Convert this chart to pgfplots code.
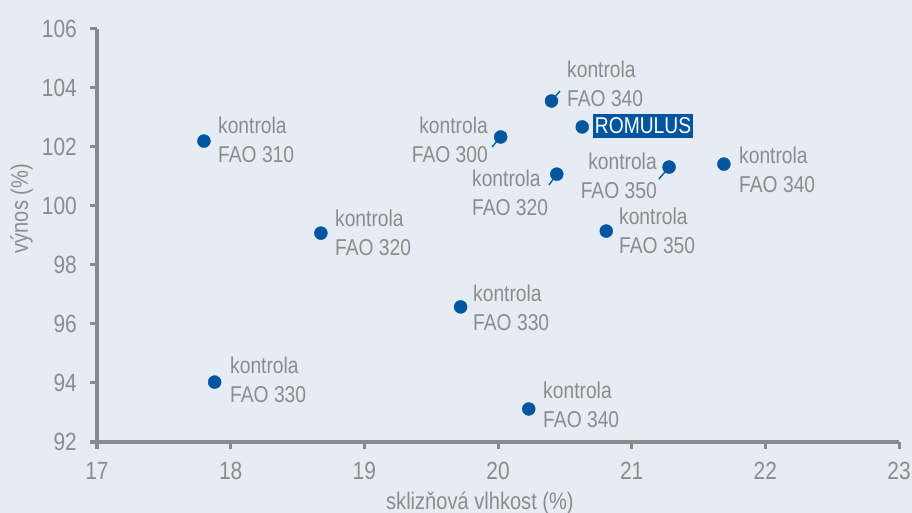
\documentclass[border=0pt]{standalone}
\usepackage{fontspec}
\setmainfont{Liberation Sans}[FakeStretch=0.84]
\usepackage{pgfplots}
\pgfplotsset{compat=1.18}
\definecolor{bgc}{HTML}{E6ECF3}
\definecolor{txt}{HTML}{8C8C8C}
\definecolor{axc}{HTML}{8A8A8A}
\definecolor{pt}{HTML}{0055A0}
\begin{document}
\begin{tikzpicture}
\fill[bgc] (0,0) rectangle (912bp,513bp);
\useasboundingbox (0,0) rectangle (912bp,513bp);
\begin{axis}[at={(97bp,71bp)}, anchor=south west, scale only axis,
  width=802bp, height=413bp,
  xmin=17, xmax=23, ymin=92, ymax=106,
  xtick={17,...,23}, ytick={92,94,...,106},
  axis x line=bottom, axis y line=left,
  axis line style={-, axc, line width=3.5bp},
  tick align=outside, major tick length=7bp,
  tick style={axc, line width=3bp},
  /pgf/number format/assume math mode=true,
  tick label style={font=\fontsize{25}{29}\selectfont, text=txt},
  xticklabel style={yshift=-13bp},
  yticklabel style={xshift=-13bp},
  xlabel={sklizňová vlhkost (\%)}, ylabel={výnos (\%)},
  label style={font=\fontsize{24}{29}\selectfont, text=txt},
  xlabel style={at={(rel axis cs:0.4775,0)}, anchor=north, yshift=-50bp},
  ylabel style={at={(rel axis cs:0,0.565)}, anchor=south, yshift=64bp},
  clip=false,
  nodes={font=\fontsize{23}{29}\selectfont, text=txt, inner sep=0pt, align=left}]
% leader lines
\draw[pt, line width=1.3bp] (axis cs:20.02,102.34) -- (axis cs:19.955,102.0);
\draw[pt, line width=1.3bp] (axis cs:20.40,103.56) -- (axis cs:20.464,103.898);
\draw[pt, line width=1.3bp] (axis cs:20.44,101.08) -- (axis cs:20.381,100.712);
\draw[pt, line width=1.3bp] (axis cs:21.28,101.32) -- (axis cs:21.204,100.915);
\addplot[only marks, mark=*, mark size=6.5bp, pt, mark options={draw=pt, fill=pt}] coordinates {
(17.80,102.20) (18.675,99.08) (19.72,96.58) (17.88,94.03) (20.23,93.12)
(20.02,102.34) (20.40,103.56) (20.63,102.68) (20.44,101.08) (21.28,101.32)
(20.81,99.15) (21.69,101.42)};
\node[anchor=west] at (axis cs:17.905,102.237) {kontrola\\FAO 310};
\node[anchor=west] at (axis cs:18.780,99.085) {kontrola\\FAO 320};
\node[anchor=west] at (axis cs:19.813,96.542) {kontrola\\FAO 330};
\node[anchor=west] at (axis cs:20.337,93.254) {kontrola\\FAO 340};
\node[anchor=west] at (axis cs:17.995,94.102) {kontrola\\FAO 330};
\node[anchor=east, align=right] at (axis cs:19.925,102.237) {kontrola\\FAO 300};
\node[anchor=west] at (axis cs:20.516,104.136) {kontrola\\FAO 340};
\node[anchor=west] at (axis cs:19.805,100.441) {kontrola\\FAO 320};
\node[anchor=east, align=right] at (axis cs:21.189,101.017) {kontrola\\FAO 350};
\node[anchor=west] at (axis cs:20.905,99.153) {kontrola\\FAO 350};
\node[anchor=west] at (axis cs:21.803,101.220) {kontrola\\FAO 340};
\node[fill=pt, text=white, minimum width=100bp, minimum height=24bp] at (axis cs:21.085,102.712) {ROMULUS};
\end{axis}
\end{tikzpicture}
\end{document}
